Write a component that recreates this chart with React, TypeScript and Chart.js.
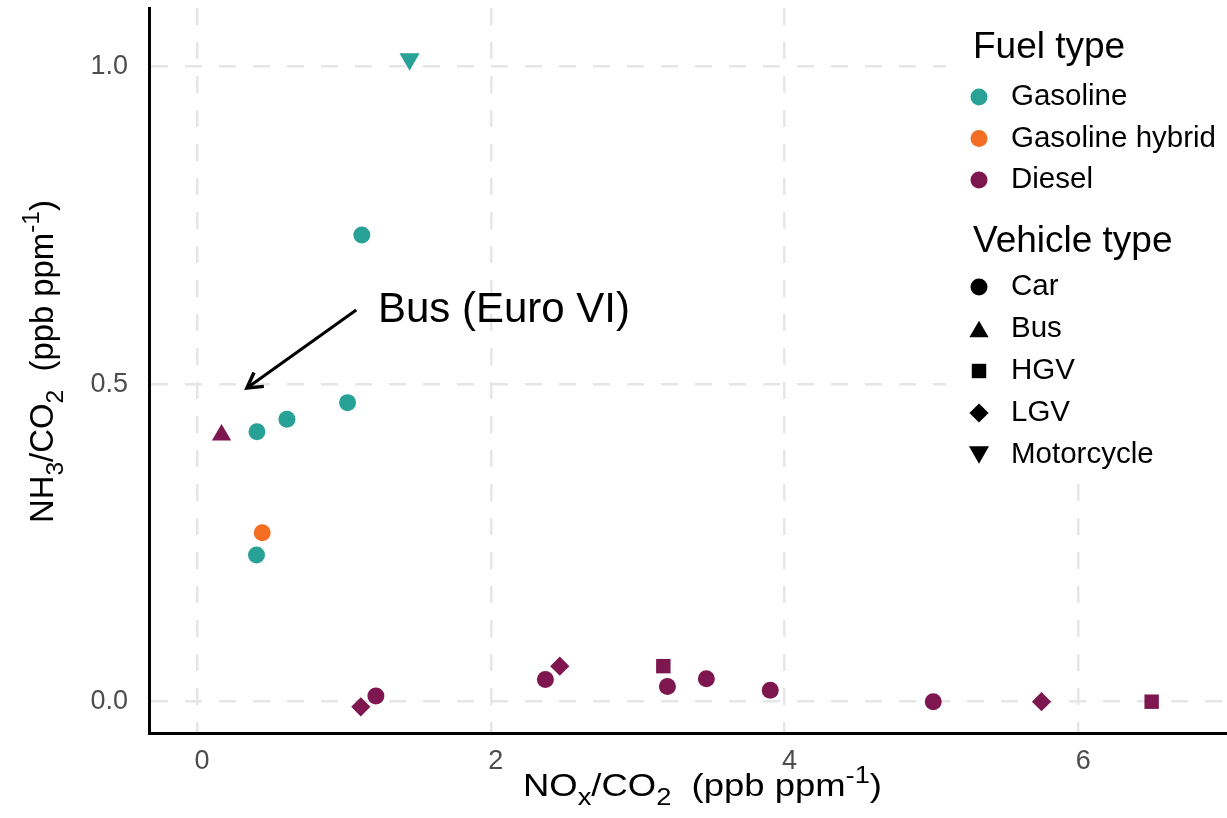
import React, { useEffect, useRef } from 'react';
import { Chart, registerables } from 'chart.js';

Chart.register(...registerables);

const FONT = '"Liberation Sans", Arial, Helvetica, sans-serif';

// ---------- data ----------
const xTickValues = [0, 2, 4, 6];
const xTickLabels = ['0', '2', '4', '6'];
const yTickValues = [0, 0.5, 1.0];
const yTickLabels = ['0.0', '0.5', '1.0'];

const fuelTypes = ['Gasoline', 'Gasoline hybrid', 'Diesel'];
const vehicleTypes = ['Car', 'Bus', 'HGV', 'LGV', 'Motorcycle'];

const gasolineX = [1.447, 1.122, 1.025, 0.612, 0.408, 0.405];
const gasolineY = [1.012, 0.735, 0.471, 0.445, 0.425, 0.231];
const gasolineVehicle = ['Motorcycle', 'Car', 'Car', 'Car', 'Car', 'Car'];

const hybridX = [0.444];
const hybridY = [0.266];
const hybridVehicle = ['Car'];

const dieselX = [0.167, 1.115, 1.218, 2.372, 2.47, 3.175, 3.203, 3.468, 3.903, 5.013, 5.75, 6.5];
const dieselY = [0.42, -0.008, 0.009, 0.035, 0.056, 0.056, 0.024, 0.036, 0.018, 0.0, 0.0, 0.0];
const dieselVehicle = ['Bus', 'LGV', 'Car', 'Car', 'LGV', 'HGV', 'Car', 'Car', 'Car', 'Car', 'LGV', 'HGV'];

const annotationLabel = 'Bus (Euro VI)';
const annotationAt = { x: 2.09, y: 0.617 };
const arrowFrom = { x: 1.084, y: 0.617 };
const arrowTo = { x: 0.34, y: 0.494 };

const xTitle = [
  { t: 'NO' }, { t: 'x', sub: true }, { t: '/CO' }, { t: '2', sub: true },
  { t: '  (ppb ppm' }, { t: '-1', sup: true }, { t: ')' },
];
const yTitle = [
  { t: 'NH' }, { t: '3', sub: true }, { t: '/CO' }, { t: '2', sub: true },
  { t: '  (ppb ppm' }, { t: '-1', sup: true }, { t: ')' },
];

// ---------- styles ----------
const FUEL_COLORS: Record<string, string> = {
  Gasoline: '#28A197',
  'Gasoline hybrid': '#F36E23',
  Diesel: '#7E1650',
};
const SHAPES: Record<string, { style: string; r: number; rot: number }> = {
  Car: { style: 'circle', r: 8.5, rot: 0 },
  Bus: { style: 'triangle', r: 11.1, rot: 0 },
  HGV: { style: 'rect', r: 10.2, rot: 0 },
  LGV: { style: 'rectRot', r: 9.6, rot: 0 },
  Motorcycle: { style: 'triangle', r: 11.6, rot: 180 },
};

function makeDataset(label: string, xs: number[], ys: number[], veh: string[]) {
  const color = FUEL_COLORS[label];
  return {
    label,
    data: xs.map((x, i) => ({ x, y: ys[i] })),
    pointStyle: veh.map((v) => SHAPES[v].style),
    pointRadius: veh.map((v) => SHAPES[v].r),
    pointHoverRadius: veh.map((v) => SHAPES[v].r),
    pointRotation: veh.map((v) => SHAPES[v].rot),
    backgroundColor: color,
    borderColor: color,
    pointBorderWidth: 0,
    borderWidth: 0,
    showLine: false,
  };
}

function drawMarker(ctx: CanvasRenderingContext2D, style: string, x: number, y: number, r: number, rot: number, color: string) {
  ctx.save();
  ctx.fillStyle = color;
  ctx.beginPath();
  let a = (rot * Math.PI) / 180;
  if (style === 'circle') {
    ctx.arc(x, y, r, 0, Math.PI * 2);
  } else if (style === 'triangle') {
    ctx.moveTo(x + Math.sin(a) * r, y - Math.cos(a) * r);
    a += (2 * Math.PI) / 3;
    ctx.lineTo(x + Math.sin(a) * r, y - Math.cos(a) * r);
    a += (2 * Math.PI) / 3;
    ctx.lineTo(x + Math.sin(a) * r, y - Math.cos(a) * r);
    ctx.closePath();
  } else if (style === 'rect') {
    const s = Math.SQRT1_2 * r;
    ctx.rect(x - s, y - s, 2 * s, 2 * s);
  } else if (style === 'rectRot') {
    ctx.moveTo(x - r, y);
    ctx.lineTo(x, y - r);
    ctx.lineTo(x + r, y);
    ctx.lineTo(x, y + r);
    ctx.closePath();
  }
  ctx.fill();
  ctx.restore();
}

function drawRich(ctx: CanvasRenderingContext2D, segs: any[], size: number, target: number) {
  const small = size * 0.75;
  const widths = segs.map((s) => {
    ctx.font = `${s.sub || s.sup ? small : size}px ${FONT}`;
    return ctx.measureText(s.t).width;
  });
  const total = widths.reduce((a, b) => a + b, 0);
  const sx = target ? target / total : 1;
  ctx.save();
  ctx.scale(sx, 1);
  ctx.textAlign = 'left';
  ctx.textBaseline = 'alphabetic';
  let x = -total / 2;
  segs.forEach((s, i) => {
    ctx.font = `${s.sub || s.sup ? small : size}px ${FONT}`;
    const dy = s.sub ? size * 0.3 : s.sup ? -size * 0.42 : 0;
    ctx.fillText(s.t, x, dy);
    x += widths[i];
  });
  ctx.restore();
}

const overlayPlugin = {
  id: 'overlay',
  afterDraw(chart: any) {
    const ctx: CanvasRenderingContext2D = chart.ctx;
    const xs = chart.scales.x;
    const ys = chart.scales.y;

    // arrow
    const x1 = xs.getPixelForValue(arrowFrom.x);
    const y1 = ys.getPixelForValue(arrowFrom.y);
    const x2 = xs.getPixelForValue(arrowTo.x);
    const y2 = ys.getPixelForValue(arrowTo.y);
    ctx.save();
    ctx.strokeStyle = '#000';
    ctx.lineWidth = 3;
    ctx.lineCap = 'butt';
    ctx.beginPath();
    ctx.moveTo(x1, y1);
    ctx.lineTo(x2, y2);
    ctx.stroke();
    const ang = Math.atan2(y1 - y2, x1 - x2);
    const hl = 17;
    const spread = Math.PI / 6;
    ctx.lineJoin = 'miter';
    ctx.lineWidth = 3.5;
    ctx.beginPath();
    ctx.moveTo(x2 + Math.cos(ang + spread) * hl, y2 + Math.sin(ang + spread) * hl);
    ctx.lineTo(x2, y2);
    ctx.lineTo(x2 + Math.cos(ang - spread) * hl, y2 + Math.sin(ang - spread) * hl);
    ctx.stroke();
    ctx.restore();

    // annotation text
    ctx.save();
    ctx.fillStyle = '#000';
    ctx.font = `42px ${FONT}`;
    ctx.textAlign = 'center';
    ctx.textBaseline = 'middle';
    ctx.fillText(annotationLabel, xs.getPixelForValue(annotationAt.x), ys.getPixelForValue(annotationAt.y));
    ctx.restore();

    // legend box
    ctx.save();
    ctx.fillStyle = '#fff';
    ctx.fillRect(946, 0, 281, 481);
    ctx.fillStyle = '#000';
    ctx.textAlign = 'left';
    ctx.textBaseline = 'alphabetic';
    ctx.font = `37px ${FONT}`;
    ctx.fillText('Fuel type', 973, 58);
    ctx.fillText('Vehicle type', 973, 252);
    ctx.font = `29.5px ${FONT}`;
    ctx.textBaseline = 'middle';
    fuelTypes.forEach((f, i) => {
      const cy = 97 + i * 41.5;
      drawMarker(ctx, 'circle', 979, cy, 8.5, 0, FUEL_COLORS[f]);
      ctx.fillStyle = '#000';
      ctx.fillText(f, 1011, cy);
    });
    vehicleTypes.forEach((v, i) => {
      const cy = 287 + i * 42;
      const s = SHAPES[v];
      let my = cy;
      if (s.style === 'triangle') my = s.rot === 180 ? cy - 0.25 * s.r : cy + 0.25 * s.r;
      drawMarker(ctx, s.style, 979, my, s.r, s.rot, '#000');
      ctx.fillStyle = '#000';
      ctx.fillText(v, 1011, cy);
    });
    ctx.restore();

    // axis titles
    ctx.save();
    ctx.fillStyle = '#000';
    ctx.translate(702.5, 796);
    drawRich(ctx, xTitle, 31, 359);
    ctx.restore();

    ctx.save();
    ctx.fillStyle = '#000';
    ctx.translate(53, 361.5);
    ctx.rotate(-Math.PI / 2);
    drawRich(ctx, yTitle, 33, 323);
    ctx.restore();
  },
};

function zeroPadding(s: any) {
  s.paddingTop = 0;
  s.paddingBottom = 0;
  s.paddingLeft = 0;
  s.paddingRight = 0;
}

export default function App() {
  const ref = useRef<HTMLCanvasElement | null>(null);
  useEffect(() => {
    if (!ref.current) return;
    const chart = new Chart(ref.current, {
      type: 'scatter',
      data: {
        datasets: [
          makeDataset('Gasoline', gasolineX, gasolineY, gasolineVehicle),
          makeDataset('Gasoline hybrid', hybridX, hybridY, hybridVehicle),
          makeDataset('Diesel', dieselX, dieselY, dieselVehicle),
        ] as any,
      },
      options: {
        animation: false,
        responsive: true,
        maintainAspectRatio: false,
        layout: { autoPadding: false, padding: { top: 8, right: 0, left: 0, bottom: 0 } },
        plugins: { legend: { display: false }, tooltip: { enabled: false } },
        scales: {
          x: {
            type: 'linear',
            min: -0.327,
            max: 7.013,
            afterBuildTicks: (s: any) => {
              s.ticks = xTickValues.map((v) => ({ value: v }));
            },
            afterFit: (s: any) => {
              s.height = 85;
              zeroPadding(s);
            },
            ticks: {
              autoSkip: false,
              maxRotation: 0,
              padding: 12,
              labelOffset: 5,
              color: '#4D4D4D',
              font: { family: FONT, size: 27 },
              callback: (v: any) => xTickLabels[xTickValues.indexOf(Number(v))] ?? '',
            },
            grid: { color: '#E6E6E6', lineWidth: 2.5, drawTicks: false },
            border: { display: true, color: '#000', width: 3, dash: [17, 17] },
          },
          y: {
            type: 'linear',
            min: -0.0493,
            max: 1.0925,
            afterBuildTicks: (s: any) => {
              s.ticks = yTickValues.map((v) => ({ value: v }));
            },
            afterFit: (s: any) => {
              s.width = 149;
              zeroPadding(s);
            },
            ticks: {
              autoSkip: false,
              padding: 21,
              color: '#4D4D4D',
              font: { family: FONT, size: 27 },
              callback: (v: any) => yTickLabels[yTickValues.indexOf(Number(v))] ?? '',
            },
            grid: { color: '#E6E6E6', lineWidth: 2.5, drawTicks: false },
            border: { display: true, color: '#000', width: 3, dash: [17, 17] },
          },
        },
      } as any,
      plugins: [overlayPlugin],
    });
    return () => chart.destroy();
  }, []);

  return (
    <div style={{ position: 'absolute', left: 0, top: 0, width: 1227, height: 818, background: '#fff' }}>
      <canvas ref={ref} />
    </div>
  );
}
